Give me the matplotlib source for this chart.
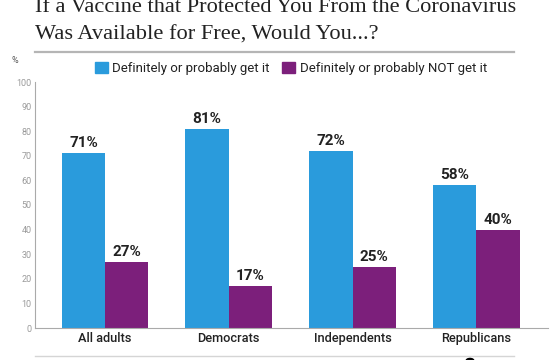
import matplotlib
matplotlib.use("Agg")
import matplotlib.pyplot as plt
import numpy as np
from matplotlib.lines import Line2D
from matplotlib.patches import Rectangle, Circle

categories = ["All adults", "Democrats", "Independents", "Republicans"]
get_it = [71, 81, 72, 58]
not_get_it = [27, 17, 25, 40]
series_names = ["Definitely or probably get it", "Definitely or probably NOT get it"]
yticks = [0, 10, 20, 30, 40, 50, 60, 70, 80, 90, 100]
title_lines = ["If a Vaccine that Protected You From the Coronavirus",
               "Was Available for Free, Would You...?"]

BLUE = "#2A9BDC"
PURPLE = "#7C1F7B"
W, H = 550, 360

fig = plt.figure(figsize=(5.5, 3.6), dpi=100)
fig.patch.set_facecolor("white")

def px(x, y):
    return x / W, 1 - y / H

ax = fig.add_axes([35 / W, 1 - 328 / H, (548 - 35) / W, (328 - 82) / H])
x = np.arange(len(categories))
bw = 0.35
b1 = ax.bar(x - bw / 2, get_it, bw, color=BLUE, label=series_names[0])
b2 = ax.bar(x + bw / 2, not_get_it, bw, color=PURPLE, label=series_names[1])
for bars, vals in ((b1, get_it), (b2, not_get_it)):
    for r, v in zip(bars, vals):
        ax.text(r.get_x() + r.get_width() / 2, v + 1.2, f"{v}%", ha="center", va="bottom",
                fontsize=11, fontweight="bold", color="#222222", family="Roboto")

ax.set_xlim(-0.566, 3.58)
ax.set_ylim(0, 100)
ax.set_yticks(yticks)
ax.set_yticklabels([str(t) for t in yticks], fontsize=6.5, color="#9a9a9a", family="Roboto")
ax.set_xticks(x)
ax.set_xticklabels(categories, fontsize=9.2, fontweight="medium", color="#222222", family="Roboto")
ax.tick_params(axis="y", length=0, pad=2.5)
ax.tick_params(axis="x", length=0, pad=3)
for s in ("top", "right"):
    ax.spines[s].set_visible(False)
for s in ("left", "bottom"):
    ax.spines[s].set_color("#aaaaaa")
    ax.spines[s].set_linewidth(0.8)

# Title
fig.text(*px(35, 12), title_lines[0], fontsize=16.1, family="Liberation Serif",
         color="#222222", ha="left", va="baseline")
fig.text(*px(35, 40), title_lines[1], fontsize=16.1, family="Liberation Serif",
         color="#222222", ha="left", va="baseline")
fig.add_artist(Line2D([35 / W, 514 / W], [1 - 52 / H] * 2, color="#b5b5b5", lw=1.6))
fig.add_artist(Line2D([35 / W, 514 / W], [1 - 356 / H] * 2, color="#d5d5d5", lw=1.0))

# % label
fig.text(*px(11, 63), "%", fontsize=6.5, color="#555555", family="Roboto", ha="left", va="baseline")

# Legend
for (sx, tx, col, name) in ((95, 112, BLUE, series_names[0]), (282, 300, PURPLE, series_names[1])):
    fig.add_artist(Rectangle(px(sx, 73), 13 / W, 11 / H, color=col, transform=fig.transFigure))
    fig.text(*px(tx, 72), name, fontsize=9.5, color="#222222", family="Roboto",
             ha="left", va="baseline")

# logo
fig.add_artist(Circle(px(470, 361), 4 / W, color="black", transform=fig.transFigure))

fig.savefig("out.png", dpi=100, facecolor="white")
